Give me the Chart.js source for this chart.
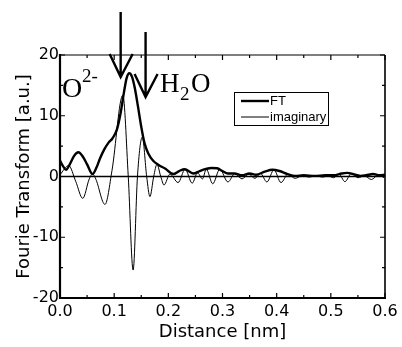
<!DOCTYPE html>
<html><head><meta charset="utf-8">
<script src="https://cdn.jsdelivr.net/npm/chart.js@4/dist/chart.umd.min.js"></script>
<style>html,body{margin:0;padding:0;background:#fff}#wrap{width:402px;height:347px}</style>
</head><body><div id="wrap"><canvas id="c" width="402" height="347"></canvas></div>
<script>
// Data
const ftDistance = [0.000,0.005,0.011,0.018,0.026,0.034,0.042,0.050,0.060,0.068,0.074,0.082,0.089,0.097,0.105,0.112,0.118,0.123,0.128,0.133,0.138,0.144,0.150,0.156,0.163,0.172,0.182,0.194,0.209,0.220,0.230,0.246,0.258,0.268,0.280,0.290,0.300,0.310,0.322,0.336,0.350,0.362,0.378,0.392,0.405,0.420,0.434,0.450,0.470,0.490,0.505,0.520,0.530,0.545,0.555,0.565,0.578,0.590,0.600];
const ftValues   = [2.6,1.8,1.1,2.0,3.4,4.0,3.3,2.0,0.4,1.6,3.0,4.5,5.5,6.3,7.7,10.5,13.8,16.2,17.0,16.4,14.6,11.5,8.2,5.5,3.8,2.6,1.9,1.3,0.4,0.9,1.2,0.5,0.9,1.2,1.4,1.35,0.9,0.5,0.5,0.2,0.5,0.3,0.8,1.1,0.9,0.4,0.1,0.2,0.1,0.2,0.2,0.5,0.6,0.3,0.1,0.2,0.4,0.2,0.3];
const imDistance = [0.000,0.016,0.029,0.042,0.054,0.060,0.066,0.083,0.096,0.116,0.126,0.135,0.143,0.152,0.160,0.166,0.173,0.179,0.186,0.192,0.203,0.218,0.231,0.244,0.254,0.263,0.270,0.282,0.295,0.310,0.323,0.336,0.348,0.360,0.370,0.382,0.395,0.408,0.421,0.434,0.447,0.460,0.472,0.485,0.495,0.505,0.515,0.526,0.538,0.550,0.562,0.575,0.588,0.598];
const imValues   = [0.3,1.8,-0.8,-3.6,-0.4,0.4,-0.4,-4.6,1.0,13.4,0.0,-15.4,0.0,6.5,0.0,-3.3,0.0,2.0,0.0,-1.4,0.4,-1.0,1.2,-1.1,0.6,-0.4,1.2,-1.2,1.2,-0.9,0.5,-0.4,0.4,-0.3,0.5,-0.9,1.1,-1.0,0.4,-0.3,0.1,-0.1,0.1,-0.1,0.1,-0.2,0.4,-0.85,0.5,-0.2,0.1,-0.5,0.3,-0.2];
const zeroDistance = [0, 0.6];
const zeroValues = [0, 0];
const xTickLabels = ['0.0','0.1','0.2','0.3','0.4','0.5','0.6'];
const yTickLabels = ['-20','-10','0','10','20'];
const seriesNames = ['FT','imaginary'];

const pts = (xs, ys) => xs.map((x, i) => ({x, y: ys[i]}));
const tickFont = {family: 'DejaVu Sans', size: 16};
const titleFont = {family: 'DejaVu Sans', size: 18};

const decor = {
  id: 'decor',
  afterDatasetsDraw(chart) {
    const {ctx, chartArea: a, scales: {x, y}} = chart;
    ctx.save();
    ctx.strokeStyle = '#000';
    // borders
    ctx.lineWidth = 1.2;
    ctx.beginPath(); ctx.moveTo(a.left, a.top); ctx.lineTo(a.right, a.top); ctx.stroke();
    ctx.lineWidth = 1.6;
    ctx.beginPath(); ctx.moveTo(a.right, a.top); ctx.lineTo(a.right, a.bottom); ctx.stroke();
    ctx.lineWidth = 2.2;
    ctx.beginPath(); ctx.moveTo(a.left, a.top - 1); ctx.lineTo(a.left, a.bottom); ctx.lineTo(a.right + 1, a.bottom); ctx.stroke();
    // inward ticks
    ctx.lineWidth = 1.2;
    for (let i = 0; i <= 12; i++) {
      const v = i * 0.05, px = x.getPixelForValue(v), len = i % 2 === 0 ? 5 : 3;
      ctx.beginPath();
      ctx.moveTo(px, a.bottom); ctx.lineTo(px, a.bottom - len);
      ctx.moveTo(px, a.top); ctx.lineTo(px, a.top + len);
      ctx.stroke();
    }
    for (let i = 0; i <= 8; i++) {
      const v = -20 + i * 5, py = y.getPixelForValue(v), len = i % 2 === 0 ? 5 : 3;
      ctx.beginPath();
      ctx.moveTo(a.left, py); ctx.lineTo(a.left + len, py);
      ctx.moveTo(a.right, py); ctx.lineTo(a.right - len, py);
      ctx.stroke();
    }
    // arrows
    const arrow = (xv, tipY, topY) => {
      const px = x.getPixelForValue(xv);
      ctx.lineWidth = 2.4;
      ctx.beginPath();
      ctx.moveTo(px, topY); ctx.lineTo(px, tipY);
      ctx.moveTo(px - 11, tipY - 23); ctx.lineTo(px, tipY); ctx.lineTo(px + 12, tipY - 23);
      ctx.stroke();
    };
    arrow(0.112, 77, 12);
    arrow(0.158, 97, 32);
    // labels
    ctx.fillStyle = '#000';
    ctx.textBaseline = 'alphabetic';
    ctx.textAlign = 'left';
    ctx.font = '28px "Liberation Serif"';
    ctx.fillText('O', 62, 97);
    ctx.font = '19px "Liberation Serif"';
    ctx.fillText('2-', 82, 82);
    ctx.font = '27px "Liberation Serif"';
    ctx.fillText('H', 160, 92);
    ctx.font = '19px "Liberation Serif"';
    ctx.fillText('2', 180, 100);
    ctx.font = '27px "Liberation Serif"';
    ctx.fillText('O', 191, 92);
    // legend
    ctx.fillStyle = '#fff';
    ctx.fillRect(234.5, 92.5, 94, 33);
    ctx.lineWidth = 1;
    ctx.strokeRect(234.5, 92.5, 94, 33);
    ctx.lineWidth = 2.4;
    ctx.beginPath(); ctx.moveTo(241, 101); ctx.lineTo(269, 101); ctx.stroke();
    ctx.lineWidth = 1;
    ctx.beginPath(); ctx.moveTo(241, 117); ctx.lineTo(269, 117); ctx.stroke();
    ctx.fillStyle = '#000';
    ctx.font = '13px "Liberation Sans"';
    ctx.textBaseline = 'middle';
    ctx.fillText(seriesNames[0], 270, 101);
    ctx.fillText(seriesNames[1], 270, 117);
    ctx.restore();
  }
};

new Chart(document.getElementById('c'), {
  type: 'line',
  data: {
    datasets: [
      {label: 'zero', data: pts(zeroDistance, zeroValues), borderColor: '#000', borderWidth: 1.6, pointRadius: 0},
      {label: seriesNames[1], data: pts(imDistance, imValues), borderColor: '#000', borderWidth: 1, pointRadius: 0, cubicInterpolationMode: 'monotone'},
      {label: seriesNames[0], data: pts(ftDistance, ftValues), borderColor: '#000', borderWidth: 2.4, pointRadius: 0, cubicInterpolationMode: 'monotone'}
    ]
  },
  options: {
    responsive: false, animation: false, devicePixelRatio: 1,
    layout: {padding: {top: 55, right: 17, left: 0, bottom: 0}},
    plugins: {legend: {display: false}, tooltip: {enabled: false}},
    scales: {
      x: {
        type: 'linear', min: 0, max: 0.6,
        afterFit: s => { s.height = 49; },
        afterBuildTicks: s => { s.ticks = xTickLabels.map(t => ({value: parseFloat(t)})); },
        grid: {display: false, drawTicks: false},
        border: {display: false},
        ticks: {font: tickFont, color: '#000', padding: 4, maxRotation: 0, autoSkip: false,
                callback: (v, i) => xTickLabels[i]},
        title: {display: true, text: 'Distance [nm]', font: titleFont, color: '#000', padding: {top: 0, bottom: 4}}
      },
      y: {
        type: 'linear', min: -20, max: 20,
        afterFit: s => { s.width = 60; },
        afterBuildTicks: s => { s.ticks = yTickLabels.map(t => ({value: parseFloat(t)})); },
        grid: {display: false, drawTicks: false},
        border: {display: false},
        ticks: {font: tickFont, color: '#000', padding: 1, autoSkip: false,
                callback: (v, i) => yTickLabels[i]},
        title: {display: true, text: 'Fourie Transform [a.u.]', font: titleFont, color: '#000', padding: {top: 14, bottom: 0}}
      }
    }
  },
  plugins: [decor]
});
</script></body></html>
